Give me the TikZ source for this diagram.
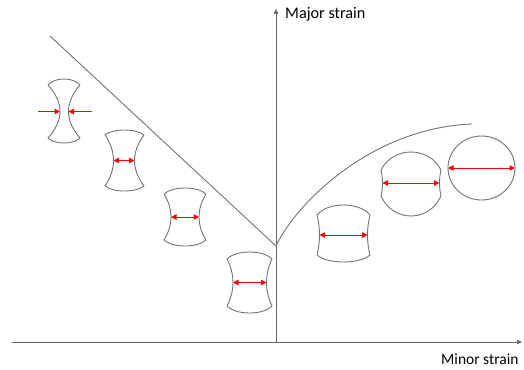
\documentclass[tikz,border=0pt]{standalone}
\usepackage{fontspec}
\setmainfont{Carlito}
\usetikzlibrary{arrows.meta}

% Pinched specimen outline: L, R, top corner y, top peak y,
% bottom corner y, bottom peak y, left waist inset, right waist inset
\newcommand\pinchshape[8]{%
  \pgfmathsetmacro\shW{#2-#1}%
  \pgfmathsetmacro\shA{#3+(#5-#3)/3}%
  \pgfmathsetmacro\shB{#5-(#5-#3)/3}%
  \draw[outline] (#1,#3)
    .. controls ({#1+0.2*\shW},{#3-4/3*(#3-#4)}) and ({#2-0.2*\shW},{#3-4/3*(#3-#4)}) .. (#2,#3)
    .. controls ({#2-4/3*#8},\shA) and ({#2-4/3*#8},\shB) .. (#2,#5)
    .. controls ({#2-0.2*\shW},{#5+4/3*(#6-#5)}) and ({#1+0.2*\shW},{#5+4/3*(#6-#5)}) .. (#1,#5)
    .. controls ({#1+4/3*#7},\shB) and ({#1+4/3*#7},\shA) .. cycle;%
}

\tikzset{
  outline/.style={draw=black!55, line width=0.9pt, line join=round},
  axisline/.style={draw=black!60, line width=1pt},
  limitline/.style={draw=black!55, line width=0.9pt},
  strainarrow/.style={draw=red, line width=1pt, -{Triangle[length=5.5pt,width=5.5pt]}},
  straindouble/.style={draw=red, line width=1pt,
    {Triangle[length=5.5pt,width=5.5pt]}-{Triangle[length=5.5pt,width=5.5pt]}},
  axislabel/.style={inner sep=0pt, anchor=base west}
}

\begin{document}
\begin{tikzpicture}[x=1pt,y=-1pt]
  \fill[white] (0,0) rectangle (524,369);
  \useasboundingbox (0,0) rectangle (524,369);

  % axes
  \coordinate (xl) at (12,342);
  \coordinate (xr) at (522,342);
  \coordinate (yb) at (276,343);
  \coordinate (yt) at (276,9);
  \draw[axisline, -{Triangle[length=5pt,width=4.5pt]}] (xl) -- (xr);
  \draw[axisline, -{Triangle[length=5pt,width=4.5pt]}] (yb) -- (yt);
  \node[axislabel, font=\fontsize{16.2}{19}\selectfont] (major) at (285,19) {Major strain};
  \node[axislabel, font=\fontsize{15.5}{18}\selectfont] (minor) at (441,364) {Minor strain};

  % forming limit lines
  \coordinate (v) at (276,246);
  \coordinate (lt) at (50,36);
  \coordinate (re) at (472,124);
  \draw[limitline] (lt) -- (v);
  \draw[limitline] (v) .. controls (295,205) and (370,128) .. (re);

  % specimen outlines
  \pinchshape{48}{80}{85}{79}{138}{143}{12}{11.5}
  \pinchshape{105}{144}{135}{130}{186}{191}{8.5}{9.5}
  \pinchshape{164}{206}{194}{188}{240}{246}{7}{7}
  \pinchshape{227}{272}{259}{252}{306}{313}{6}{5.5}
  \pinchshape{317}{370}{215}{205}{255}{262}{2.5}{2.5}
  \pinchshape{381}{441}{170}{152}{196}{216}{1.5}{1.5}
  \draw[outline] (481.5,168) ellipse [x radius=33.5, y radius=32];

  % minor strain arrows
  \coordinate (a1o) at (38,111.5);  \coordinate (a1l) at (60,111.5);
  \coordinate (a1p) at (92,111.5);  \coordinate (a1r) at (68.5,111.5);
  \draw[strainarrow] (a1o) -- (a1l);
  \draw[strainarrow] (a1p) -- (a1r);

  \coordinate (a2l) at (113.5,160.5); \coordinate (a2r) at (134.5,160.5);
  \draw[straindouble] (a2l) -- (a2r);
  \coordinate (a3l) at (171,217);   \coordinate (a3r) at (199,217);
  \draw[straindouble] (a3l) -- (a3r);
  \coordinate (a4l) at (233,282.5); \coordinate (a4r) at (266.5,282.5);
  \draw[straindouble] (a4l) -- (a4r);
  \coordinate (a5l) at (319.5,235); \coordinate (a5r) at (367.5,235);
  \draw[straindouble] (a5l) -- (a5r);
  \coordinate (a6l) at (382.5,183); \coordinate (a6r) at (439.5,183);
  \draw[straindouble] (a6l) -- (a6r);
  \coordinate (a7l) at (448,168);   \coordinate (a7r) at (515,168);
  \draw[straindouble] (a7l) -- (a7r);
\end{tikzpicture}
\end{document}
